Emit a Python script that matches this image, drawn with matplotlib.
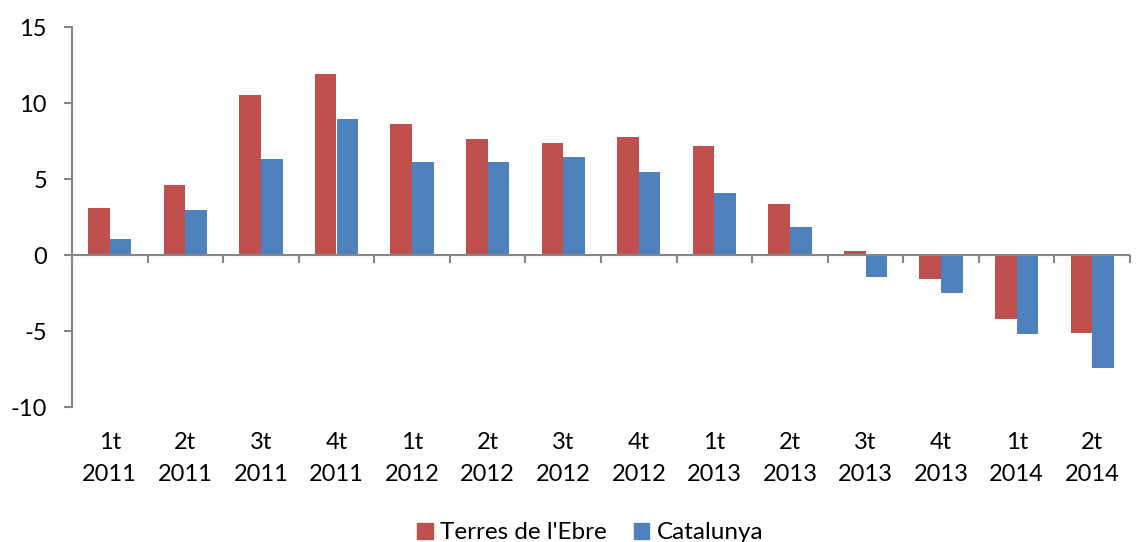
import numpy as np
import matplotlib.pyplot as plt
from matplotlib.patches import Patch

plt.rcParams['font.family'] = ['Lato', 'DejaVu Sans']

quarters = ["1t", "2t", "3t", "4t", "1t", "2t", "3t", "4t", "1t", "2t", "3t", "4t", "1t", "2t"]
years = ["2011", "2011", "2011", "2011", "2012", "2012", "2012", "2012",
         "2013", "2013", "2013", "2013", "2014", "2014"]
ebre = [3.1, 4.6, 10.5, 11.9, 8.65, 7.6, 7.35, 7.75, 7.2, 3.35, 0.25, -1.55, -4.2, -5.15]
catalunya = [1.05, 2.95, 6.3, 8.95, 6.1, 6.15, 6.45, 5.45, 4.1, 1.85, -1.45, -2.5, -5.2, -7.45]

red = "#C0504D"
blue = "#4F81BD"
grey = "#868686"

fig = plt.figure(figsize=(11.37, 5.42), dpi=100)
ax = fig.add_axes([72 / 1137, 1 - 407 / 542, 1058 / 1137, 380 / 542])

x = np.arange(len(quarters))
w = 0.2857
ax.bar(x - w / 2, ebre, w, color=red, label="Terres de l'Ebre")
ax.bar(x + w / 2, catalunya, w, color=blue, label="Catalunya")

ax.set_xlim(-0.5, len(quarters) - 0.5)
ax.set_ylim(-10, 15)
ax.set_yticks([-10, -5, 0, 5, 10, 15])
ax.set_yticklabels(["-10", "-5", "0", "5", "10", "15"])

for s in ["top", "right", "bottom"]:
    ax.spines[s].set_visible(False)
ax.spines["left"].set_color(grey)
ax.spines["left"].set_linewidth(1.5)
ax.tick_params(axis="y", length=6, width=1.5, color=grey, labelsize=17, pad=12)

ax.set_xticks(x)
ax.set_xticklabels([f"{q}\n{y}" for q, y in zip(quarters, years)], linespacing=1.65)
ax.tick_params(axis="x", length=0, labelsize=17, pad=18)

# category axis drawn at zero
ax.axhline(0, color=grey, lw=1.5, zorder=3)
sec = ax.secondary_xaxis(10 / 25)
sec.spines["bottom"].set_visible(False)
sec.set_xticks(np.arange(len(quarters) + 1) - 0.5)
sec.set_xticklabels([])
sec.tick_params(axis="x", length=6, width=1.5, color=grey, direction="out")

handles = [Patch(color=red), Patch(color=blue)]
fig.legend(handles, ["Terres de l'Ebre", "Catalunya"], loc="lower center",
           bbox_to_anchor=(0.519, -0.043), ncol=2, frameon=False, fontsize=17.5,
           handlelength=0.65, handleheight=0.65, handletextpad=0.3, columnspacing=1.1)

fig.savefig("out.png", dpi=100)
plt.close(fig)
